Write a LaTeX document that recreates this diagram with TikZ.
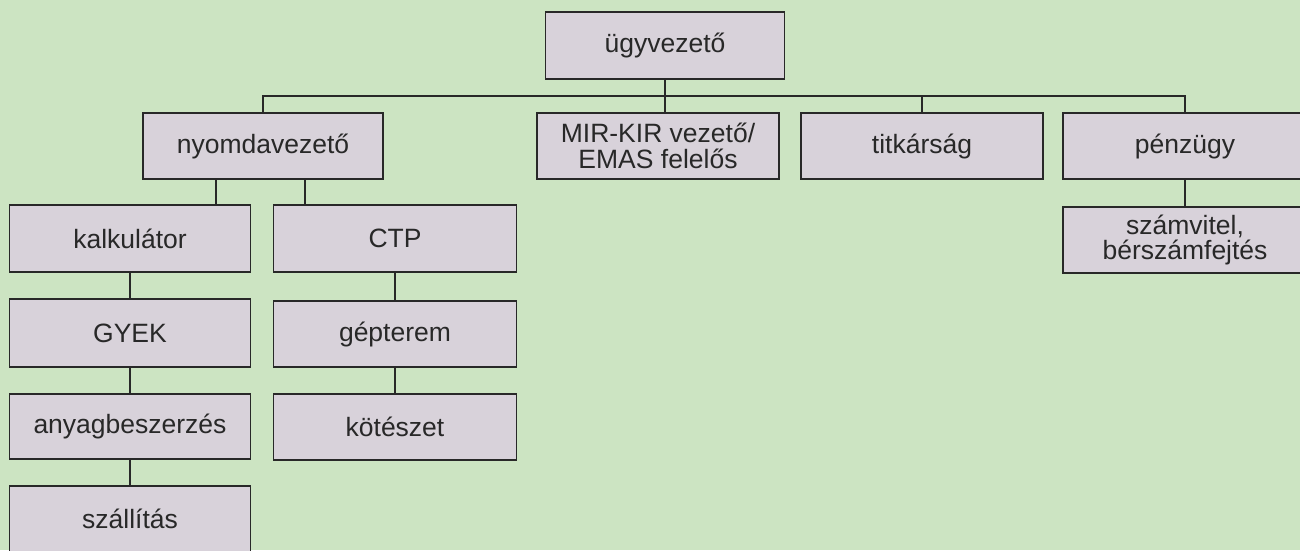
\documentclass[tikz,border=0pt]{standalone}
\usepackage{fontspec}
\setmainfont{Liberation Sans}
\definecolor{paper}{RGB}{204,228,194}
\definecolor{boxfill}{RGB}{216,210,218}
\definecolor{ink}{RGB}{40,40,40}
\begin{document}
\begin{tikzpicture}[x=1pt,y=-1pt,line width=1.5pt]
        % Styles
        \tikzstyle{unit}=[draw=ink,fill=boxfill,text=ink,rectangle,inner sep=0pt,
            minimum width=241pt,minimum height=66pt,align=center,
            font=\fontsize{26.5}{25.5}\selectfont]
        \tikzstyle{link}=[draw=ink]
        %The graphic
        %background
        \useasboundingbox (0,0) rectangle (1300,550);
        \fill[paper] (0,0) rectangle (1300,550);
        \clip (0,0) rectangle (1300,550);
        %top level
        \node[unit,minimum width=239pt,minimum height=67pt] (ugy) at (665,45.5) {ügyvezető};
        \node[unit,minimum width=240pt] (nyomda) at (263,146) {nyomdavezető};
        \node[unit,minimum width=242pt] (mir) at (658,146) {MIR-KIR vezető/\\EMAS felelős};
        \node[unit,minimum width=242pt] (titk) at (922,146) {titkárság};
        \node[unit,minimum width=244pt] (penz) at (1185,146) {pénzügy};
        \node[unit,minimum width=244pt] (szamv) at (1185,240) {számvitel,\\bérszámfejtés};
        %left column
        \node[unit,minimum height=67pt] (kalk) at (130,238.5) {kalkulátor};
        \node[unit,minimum height=68pt] (gyek) at (130,333) {GYEK};
        \node[unit,minimum height=65pt] (anyag) at (130,426.5) {anyagbeszerzés};
        \node[unit] (szall) at (130,519) {szállítás};
        %right column
        \node[unit,minimum width=243pt,minimum height=67pt] (ctp) at (395,238.5) {CTP};
        \node[unit,minimum width=243pt] (gep) at (395,334) {gépterem};
        \node[unit,minimum width=243pt] (kot) at (395,427) {kötészet};
        %connectors
        \coordinate (bus) at (665,96);
        \draw[link] (ugy.south) -- (ugy.south |- mir.north);
        \draw[link] (nyomda.north) -- (nyomda.north |- bus) -- (penz.north |- bus) -- (penz.north);
        \draw[link] (titk.north) -- (titk.north |- bus);
        \draw[link] (penz.south) -- (szamv.north);
        \draw[link] ([xshift=-47pt]nyomda.south) -- ([xshift=-47pt]nyomda.south |- kalk.north);
        \draw[link] ([xshift=42pt]nyomda.south) -- ([xshift=42pt]nyomda.south |- ctp.north);
        \draw[link] (kalk.south) -- (kalk.south |- gyek.north);
        \draw[link] (gyek.south) -- (gyek.south |- anyag.north);
        \draw[link] (anyag.south) -- (anyag.south |- szall.north);
        \draw[link] (ctp.south) -- (ctp.south |- gep.north);
        \draw[link] (gep.south) -- (gep.south |- kot.north);
\end{tikzpicture}
\end{document}
